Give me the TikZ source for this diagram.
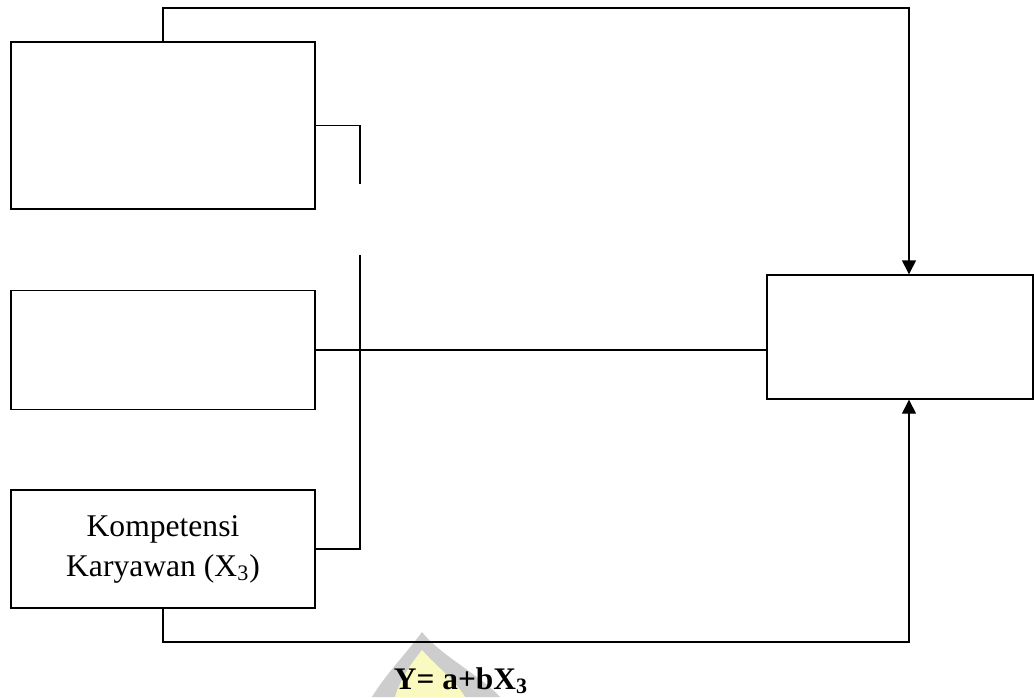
\documentclass[tikz,border=0pt]{standalone}
\usepackage{fontspec}
\setmainfont{Liberation Serif}
\usetikzlibrary{arrows.meta}
\tikzset{
  varbox/.style={draw, line width=0.7pt, inner sep=0pt, minimum width=152pt, align=center,
    font=\fontsize{15.8}{20}\selectfont},
  link/.style={line width=0.7pt},
  arr/.style={line width=0.7pt, -{Triangle[width=7pt,length=7pt]}}
}
\begin{document}
\begin{tikzpicture}[x=0.5pt,y=0.5pt,yscale=-1,xscale=1]
\useasboundingbox (0,0) rectangle (1034,697);

%Shape: Watermark
\fill [color={rgb, 255:red, 205; green, 205; blue, 205 }] (422,632) .. controls (405,655) and (385,675) .. (372,697) -- (500,697) .. controls (480,675) and (440,655) .. (422,632) -- cycle ;
\fill [color={rgb, 255:red, 250; green, 250; blue, 192 }] (422,650) .. controls (410,665) and (400,680) .. (395,697) -- (465,697) .. controls (455,680) and (435,665) .. (422,650) -- cycle ;

%Boxes
\node [varbox, minimum height=83.5pt] (b1) at (163,125.5) {};
\node [varbox, minimum height=59.5pt] (b2) at (163,350) {};
\node [varbox, minimum height=59pt] (b3) at (163,549) {Kompetensi\\Karyawan (X\textsubscript{3})};
\node [varbox, minimum width=133pt, minimum height=62pt] (y) at (900,337) {};

%Corner points
\coordinate (tr) at (909,8);
\coordinate (br) at (909,642);
\coordinate (j1) at (360,184);
\coordinate (j2) at (360,255);

%Straight Lines
\draw [arr] (b1.north) |- (tr) -- (y.north -| tr);
\draw [arr] (b3.south) |- (br) -- (y.south -| br);
\draw [link] (b2.east) -- (y.west |- b2.east);
\draw [link] (b1.east) -| (j1);
\draw [link] (j2) |- (b3.east);

%Formula
\node [anchor=base, font=\fontsize{15.7}{18}\selectfont\bfseries] (eq) at (461,689) {Y= a+bX\textsubscript{3}};
\end{tikzpicture}
\end{document}
